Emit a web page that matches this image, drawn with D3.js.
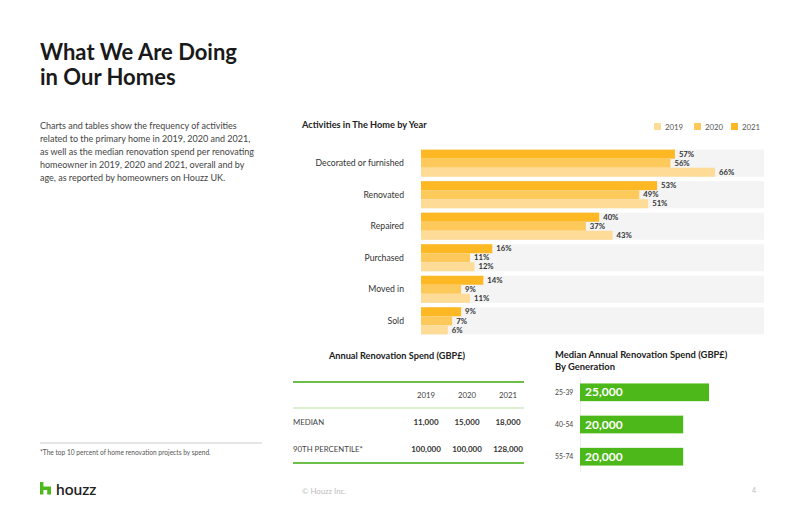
<!DOCTYPE html>
<html><head><meta charset="utf-8">
<script src="https://cdn.jsdelivr.net/npm/d3@7/dist/d3.min.js"></script>
<style>
html,body{margin:0;padding:0;background:#fff;}
svg{display:block;font-family:Lato,"Open Sans",sans-serif;}
</style></head><body>
<svg id="c" width="802" height="519"></svg>
<script>
const activities = ["Decorated or furnished","Renovated","Repaired","Purchased","Moved in","Sold"];
const years = ["2021","2020","2019"];
const legendYears = ["2019","2020","2021"];
const values2021 = [57,53,40,16,14,9];
const values2020 = [56,49,37,11,9,7];
const values2019 = [66,51,43,12,11,6];
const tableCols = ["2019","2020","2021"];
const tableRows = ["MEDIAN","90TH PERCENTILE*"];
const medianSpend = ["11,000","15,000","18,000"];
const p90Spend = ["100,000","100,000","128,000"];
const generations = ["25-39","40-54","55-74"];
const genSpend = [25000,20000,20000];

const colors = {"2021":"#FDB824","2020":"#FEC95B","2019":"#FEDB96"};
const green = "#4DB81A";
const svg = d3.select("#c");

// Left side
svg.append("text").attr("x",40).attr("y",60).attr("font-size",22).attr("font-weight",700).attr("fill","#1a1a1a").text("What We Are Doing");
svg.append("text").attr("x",40).attr("y",85).attr("font-size",22).attr("font-weight",700).attr("fill","#1a1a1a").text("in Our Homes");
const para = ["Charts and tables show the frequency of activities",
"related to the primary home in 2019, 2020 and 2021,",
"as well as the median renovation spend per renovating",
"homeowner in 2019, 2020 and 2021, overall and by",
"age, as reported by homeowners on Houzz UK."];
svg.append("g").selectAll("text").data(para).join("text")
  .attr("x",40).attr("y",(d,i)=>129+i*13).attr("font-size",9).attr("fill","#444").text(d=>d);
svg.append("line").attr("x1",40).attr("x2",262).attr("y1",443).attr("y2",443).attr("stroke","#ccc").attr("stroke-width",1);
svg.append("text").attr("x",40).attr("y",455).attr("font-size",6.6).attr("fill","#555").text("*The top 10 percent of home renovation projects by spend.");

// Footer
const logo = svg.append("g").attr("transform","translate(40,482)");
logo.append("path").attr("d","M0,0 H3.4 V4.5 H11 V12.5 H7.2 V8 H3.4 V12.5 H0 Z").attr("fill",green);
svg.append("text").attr("x",56).attr("y",494.5).attr("font-size",15.5).attr("font-weight",600).attr("fill","#222").text("houzz");
svg.append("text").attr("x",302).attr("y",494).attr("font-size",7.8).attr("fill","#bbb").text("© Houzz Inc.");
svg.append("text").attr("x",752).attr("y",493).attr("font-size",7).attr("fill","#bbb").text("4");

// Bar chart
const titleSize = 9.2;
svg.append("text").attr("x",302).attr("y",128).attr("font-size",titleSize).attr("font-weight",700).attr("fill","#222").text("Activities in The Home by Year");
const lg = svg.append("g").selectAll("g").data(legendYears).join("g")
  .attr("transform",(d,i)=>`translate(${[654,694,731][i]},123)`);
lg.append("rect").attr("width",7).attr("height",7).attr("fill",d=>colors[d]);
lg.append("text").attr("x",11).attr("y",7).attr("font-size",7.8).attr("fill","#555").text(d=>d);

const x = d3.scaleLinear().domain([0,77]).range([421,764]);
const y0 = d3.scaleBand().domain(activities).range([149,335]).paddingInner(0.14).paddingOuter(0.02);
const y1 = d3.scaleBand().domain(years).range([0,y0.bandwidth()]);
const series = {"2021":values2021,"2020":values2020,"2019":values2019};

const grp = svg.append("g").selectAll("g").data(activities).join("g")
  .attr("transform",d=>`translate(0,${y0(d)})`);
grp.append("rect").attr("x",x(0)).attr("width",x(77)-x(0)).attr("height",y0.bandwidth()).attr("fill","#F4F4F4");
grp.append("text").attr("x",404).attr("y",y0.bandwidth()/2+3).attr("text-anchor","end").attr("font-size",8.7).attr("fill","#333").text(d=>d);
grp.each(function(a,ai){
  const g = d3.select(this);
  years.forEach(yr=>{
    const v = series[yr][ai];
    g.append("rect").attr("x",x(0)).attr("y",y1(yr)).attr("width",x(v)-x(0)).attr("height",y1.bandwidth()).attr("fill",colors[yr]);
    g.append("text").attr("x",x(v)+4).attr("y",y1(yr)+y1.bandwidth()/2+2.7).attr("font-size",7.7).attr("font-weight",700).attr("fill","#333").text(v+"%");
  });
});

// Table
svg.append("text").attr("x",397).attr("y",359).attr("text-anchor","middle").attr("font-size",titleSize).attr("font-weight",700).attr("fill","#222").text("Annual Renovation Spend (GBP£)");
svg.append("line").attr("x1",293).attr("x2",524).attr("y1",382).attr("y2",382).attr("stroke","#6CC04A").attr("stroke-width",2);
svg.append("line").attr("x1",293).attr("x2",524).attr("y1",408).attr("y2",408).attr("stroke","#B8DFA6").attr("stroke-width",1);
svg.append("line").attr("x1",293).attr("x2",524).attr("y1",463).attr("y2",463).attr("stroke","#6CC04A").attr("stroke-width",2);
const colX = d3.scalePoint().domain(tableCols).range([426,508]);
svg.append("g").selectAll("text").data(tableCols).join("text")
  .attr("x",d=>colX(d)).attr("y",398).attr("text-anchor","middle").attr("font-size",7.8).attr("fill","#444").text(d=>d);
const rowY = d3.scalePoint().domain(tableRows).range([425,452]);
svg.append("g").selectAll("text").data(tableRows).join("text")
  .attr("x",293).attr("y",d=>rowY(d)).attr("font-size",7.8).attr("fill","#444").text(d=>d);
[medianSpend,p90Spend].forEach((row,ri)=>{
  svg.append("g").selectAll("text").data(row).join("text")
    .attr("x",(d,i)=>colX(tableCols[i])).attr("y",rowY(tableRows[ri])).attr("text-anchor","middle")
    .attr("font-size",8).attr("font-weight",700).attr("fill","#333").text(d=>d);
});

// Generation chart
svg.append("text").attr("x",555).attr("y",358).attr("font-size",titleSize+0.2).attr("font-weight",700).attr("fill","#222").text("Median Annual Renovation Spend (GBP£)");
svg.append("text").attr("x",555).attr("y",370).attr("font-size",titleSize+0.2).attr("font-weight",700).attr("fill","#222").text("By Generation");
const gx = d3.scaleLinear().domain([0,25000]).range([580,709]);
const gy = d3.scaleBand().domain(generations).range([377,472]).paddingInner(0.45).paddingOuter(0.2);
svg.append("line").attr("x1",580.5).attr("x2",580.5).attr("y1",377).attr("y2",472).attr("stroke","#eee");
const gg = svg.append("g").selectAll("g").data(generations).join("g").attr("transform",d=>`translate(0,${gy(d)})`);
gg.append("rect").attr("x",gx(0)).attr("width",(d,i)=>gx(genSpend[i])-gx(0)).attr("height",gy.bandwidth()).attr("fill",green);
gg.append("text").attr("x",555).attr("y",gy.bandwidth()/2+2.5).attr("font-size",6.8).attr("fill","#444").text(d=>d);
gg.append("text").attr("x",585).attr("y",gy.bandwidth()/2+4.2).attr("font-size",12).attr("font-weight",700).attr("fill","#fff").text((d,i)=>d3.format(",")(genSpend[i]));
</script></body></html>
